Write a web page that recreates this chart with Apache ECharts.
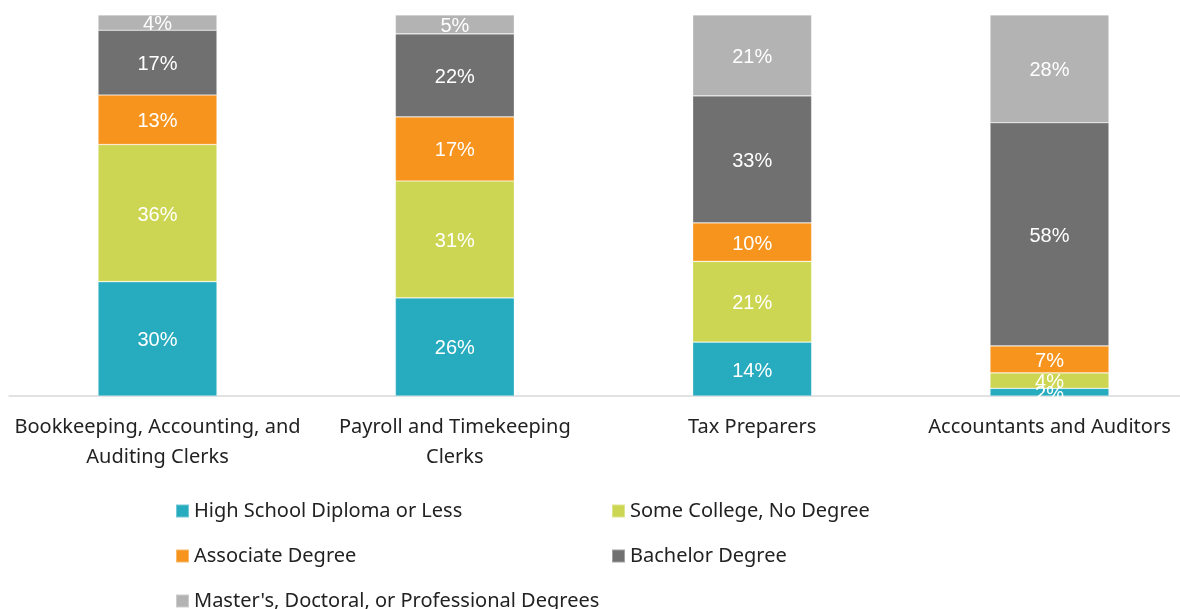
<!DOCTYPE html>
<html>
<head>
<meta charset="utf-8">
<script src="https://cdn.jsdelivr.net/npm/echarts@6/dist/echarts.min.js"></script>
<style>
  html, body { margin: 0; padding: 0; background: #fff; }
  #main { width: 1180px; height: 609px; }
</style>
</head>
<body>
<div id="main"></div>
<script>
// categories and values (percent shown on each segment)
var categories = ['Bookkeeping, Accounting, and\nAuditing Clerks', 'Payroll and Timekeeping\nClerks', 'Tax Preparers', 'Accountants and Auditors'];
var seriesNames = ['High School Diploma or Less', 'Some College, No Degree', 'Associate Degree', 'Bachelor Degree', "Master's, Doctoral, or Professional Degrees"];
var highSchool = [30, 26, 14, 2];
var someCollege = [36, 31, 21, 4];
var associate = [13, 17, 10, 7];
var bachelor = [17, 22, 33, 58];
var masters = [4, 5, 21, 28];
var colors = ['#27abbf', '#cdd652', '#f7941d', '#6f706f', '#b2b3b2'];

var rows = [highSchool, someCollege, associate, bachelor, masters];
// 100% stacked: scale each column to its total
var totals = categories.map(function (c, i) {
	var t = 0;
	for (var k = 0; k < rows.length; k++) { t += rows[k][i]; }
	return t;
});

var font = "'Liberation Sans Narrow', 'Noto Sans', sans-serif";

var series = rows.map(function (arr, k) {
	return {
		name: seriesNames[k],
		type: 'bar',
		stack: 'all',
		barWidth: 119,
		itemStyle: { color: colors[k], borderColor: 'rgba(255,255,255,0.35)', borderWidth: 0.7 },
		label: {
			show: true,
			position: 'inside',
			offset: [0, 2],
			color: '#fff',
			fontSize: 20,
			fontFamily: "'Liberation Sans', Arial, sans-serif",
			formatter: function (p) { return arr[p.dataIndex] + '%'; }
		},
		data: arr.map(function (v, i) { return v / totals[i] * 100; })
	};
});

// legend items placed in two columns like the original
var legendPos = [[175, 501], [611, 501], [175, 546], [611, 546], [175, 591]];
var legends = seriesNames.map(function (n, k) {
	return {
		data: [n],
		left: legendPos[k][0],
		top: legendPos[k][1],
		padding: 0,
		itemWidth: 13,
		itemHeight: 13,
		itemGap: 0,
		icon: 'rect',
		selectedMode: false,
		textStyle: { fontSize: 20, color: '#222', fontFamily: font }
	};
});

var myChart = echarts.init(document.getElementById('main'));
var option = {
	animation: false,
	color: colors,
	// grid 0 holds the bars (category centres at the ends), grid 1 only draws the base line
	grid: [
		{ left: 157.5, top: 15, width: 892, height: 381 },
		{ left: 9, top: 15, right: 0, height: 381 }
	],
	legend: legends,
	xAxis: [{
		type: 'category',
		gridIndex: 0,
		data: categories,
		boundaryGap: false,
		axisLine: { show: false },
		axisTick: { show: false },
		axisLabel: { fontSize: 20, color: '#222', fontFamily: font, lineHeight: 30, margin: 16, interval: 0 }
	}, {
		type: 'category',
		gridIndex: 1,
		data: categories,
		axisLine: { lineStyle: { color: '#d9d9d9', width: 1.5 } },
		axisTick: { show: false },
		axisLabel: { show: false }
	}],
	yAxis: [{
		type: 'value',
		gridIndex: 0,
		min: 0,
		max: 100,
		show: false
	}, {
		type: 'value',
		gridIndex: 1,
		min: 0,
		max: 100,
		show: false
	}],
	series: series
};
myChart.setOption(option);
</script>
</body>
</html>
